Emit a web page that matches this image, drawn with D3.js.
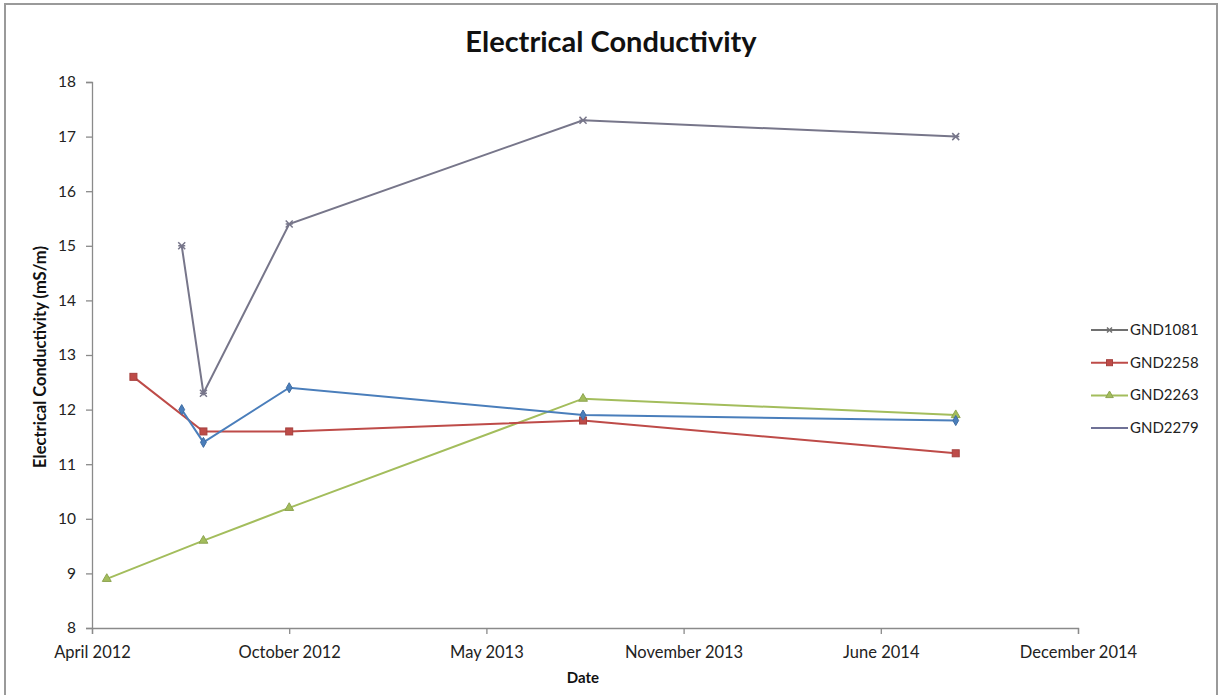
<!DOCTYPE html>
<html>
<head>
<meta charset="utf-8">
<script src="https://cdn.jsdelivr.net/npm/d3@7"></script>
<style>
  html, body { margin: 0; padding: 0; background: #fff; }
  svg { display: block; font-family: "Lato", "Open Sans", sans-serif; }
</style>
</head>
<body>
<svg id="chart" width="1223" height="695"></svg>
<script>
// Sampling dates (shared across wells; null where a well was not sampled)
const sampleDates = ["2012-04-16", "2012-05-13", "2012-07-01", "2012-07-23", "2012-10-18", "2013-08-12", "2014-08-25"];

// Electrical conductivity readings, mS/m
const gnd1081 = [null, null, 15.0, 12.3, 15.4, 17.3, 17.0];
const gnd2258 = [null, 12.6, null, 11.6, 11.6, 11.8, 11.2];
const gnd2263 = [8.9, null, null, 9.6, 10.2, 12.2, 11.9];
const gnd2279 = [null, null, 12.0, 11.4, 12.4, 11.9, 11.8];

const seriesNames = ["GND1081", "GND2258", "GND2263", "GND2279"];
const yTicks = [8, 9, 10, 11, 12, 13, 14, 15, 16, 17, 18];
const axisStart = "2012-04-01";   // date axis origin
const axisStepDays = 200;          // major unit of the date axis
const axisSteps = 5;

const styles = {
  GND1081: { color: "#77768a", legend: "#707070", marker: "star" },
  GND2258: { color: "#be4b48", legend: "#be4b48", marker: "square" },
  GND2263: { color: "#a3bd5c", legend: "#a3bd5c", marker: "triangle" },
  GND2279: { color: "#4a7ebb", legend: "#6f7196", marker: "diamond" }
};

const valuesByName = { GND1081: gnd1081, GND2258: gnd2258, GND2263: gnd2263, GND2279: gnd2279 };

const parse = d3.utcParse("%Y-%m-%d");
const dates = sampleDates.map(parse);
const start = parse(axisStart);
const xTickValues = d3.range(axisSteps + 1).map(i => d3.utcDay.offset(start, i * axisStepDays));

const svg = d3.select("#chart");
const W = 1223, H = 695;
const plot = { left: 92, right: 1078, top: 82, bottom: 628 };

// Outer chart frame
svg.append("rect")
  .attr("x", 5).attr("y", 4).attr("width", W - 11).attr("height", H + 10)
  .attr("fill", "#fff").attr("stroke", "#9a9a9a").attr("stroke-width", 2);

const x = d3.scaleUtc()
  .domain([xTickValues[0], xTickValues[xTickValues.length - 1]])
  .range([plot.left, plot.right]);
const y = d3.scaleLinear().domain([8, 18]).range([plot.bottom, plot.top]);

// Title
svg.append("text")
  .attr("x", 611).attr("y", 52)
  .attr("text-anchor", "middle")
  .attr("font-size", 29).attr("font-weight", "bold").attr("fill", "#111")
  .text("Electrical Conductivity");

// Y axis
const yAxis = svg.append("g")
  .attr("transform", `translate(${plot.left},0)`)
  .call(d3.axisLeft(y).tickValues(yTicks).tickSize(6).tickPadding(10).tickFormat(d3.format("d")));
yAxis.select(".domain").attr("stroke", "#8a8a8a").attr("stroke-width", 1.3);
yAxis.selectAll(".tick line").attr("stroke", "#8a8a8a").attr("stroke-width", 1.3);
yAxis.selectAll(".tick text").attr("font-size", 15.5).attr("fill", "#222").attr("font-family", "Lato, sans-serif");

// X axis
const xAxis = svg.append("g")
  .attr("transform", `translate(0,${plot.bottom})`)
  .call(d3.axisBottom(x).tickValues(xTickValues).tickSize(6).tickPadding(12).tickFormat(d3.utcFormat("%B %Y")));
xAxis.select(".domain").attr("stroke", "#8a8a8a").attr("stroke-width", 1.3);
xAxis.selectAll(".tick line").attr("stroke", "#8a8a8a").attr("stroke-width", 1.3);
xAxis.selectAll(".tick text").attr("font-size", 16.5).attr("fill", "#222").attr("font-family", "Lato, sans-serif");

// Axis titles
svg.append("text")
  .attr("x", 583).attr("y", 683)
  .attr("text-anchor", "middle")
  .attr("font-size", 15).attr("font-weight", "bold").attr("fill", "#111")
  .text("Date");
svg.append("text")
  .attr("transform", `translate(46,357) rotate(-90)`)
  .attr("text-anchor", "middle")
  .attr("font-size", 16.5).attr("font-weight", "bold").attr("fill", "#111")
  .text("Electrical Conductivity (mS/m)");

// Marker drawing
function drawMarker(g, type, color, cx, cy, s) {
  if (type === "square") {
    g.append("rect").attr("x", cx - s / 2).attr("y", cy - s / 2).attr("width", s).attr("height", s)
      .attr("fill", color).attr("stroke", d3.color(color).darker(0.4));
  } else if (type === "triangle") {
    g.append("path").attr("d", d3.symbol(d3.symbolTriangle, s * s * 0.7)())
      .attr("transform", `translate(${cx},${cy})`).attr("fill", color).attr("stroke", d3.color(color).darker(0.4));
  } else if (type === "diamond") {
    g.append("path").attr("d", d3.symbol(d3.symbolDiamond, s * s * 0.6)())
      .attr("transform", `translate(${cx},${cy})`).attr("fill", color).attr("stroke", d3.color(color).darker(0.4));
  } else if (type === "star") {
    const r = s / 2;
    g.append("path")
      .attr("d", `M${cx - r},${cy - r}L${cx + r},${cy + r}M${cx - r},${cy + r}L${cx + r},${cy - r}M${cx - r},${cy}L${cx + r},${cy}`)
      .attr("stroke", color).attr("stroke-width", 1.5).attr("fill", "none");
  }
}

// Series lines and markers
const line = d3.line()
  .defined(d => d.v !== null)
  .x(d => x(d.date))
  .y(d => y(d.v));

const drawOrder = ["GND2263", "GND2258", "GND2279", "GND1081"];
drawOrder.forEach(name => {
  const st = styles[name];
  const pts = dates.map((date, i) => ({ date, v: valuesByName[name][i] })).filter(d => d.v !== null);
  const g = svg.append("g");
  g.append("path").datum(pts).attr("d", line)
    .attr("fill", "none").attr("stroke", st.color).attr("stroke-width", 2);
  pts.forEach(d => drawMarker(g, st.marker, st.color, x(d.date), y(d.v), 7));
});

// Legend
const legend = svg.append("g");
seriesNames.forEach((name, i) => {
  const st = styles[name];
  const ly = 330 + i * 32.7;
  legend.append("line").attr("x1", 1091).attr("x2", 1128).attr("y1", ly).attr("y2", ly)
    .attr("stroke", st.legend).attr("stroke-width", 2);
  if (name !== "GND2279") drawMarker(legend, st.marker, st.legend, 1109.5, ly, name === "GND1081" ? 5 : 6);
  legend.append("text").attr("x", 1130).attr("y", ly + 5)
    .attr("font-size", 15).attr("fill", "#222").text(name);
});
</script>
</body>
</html>
